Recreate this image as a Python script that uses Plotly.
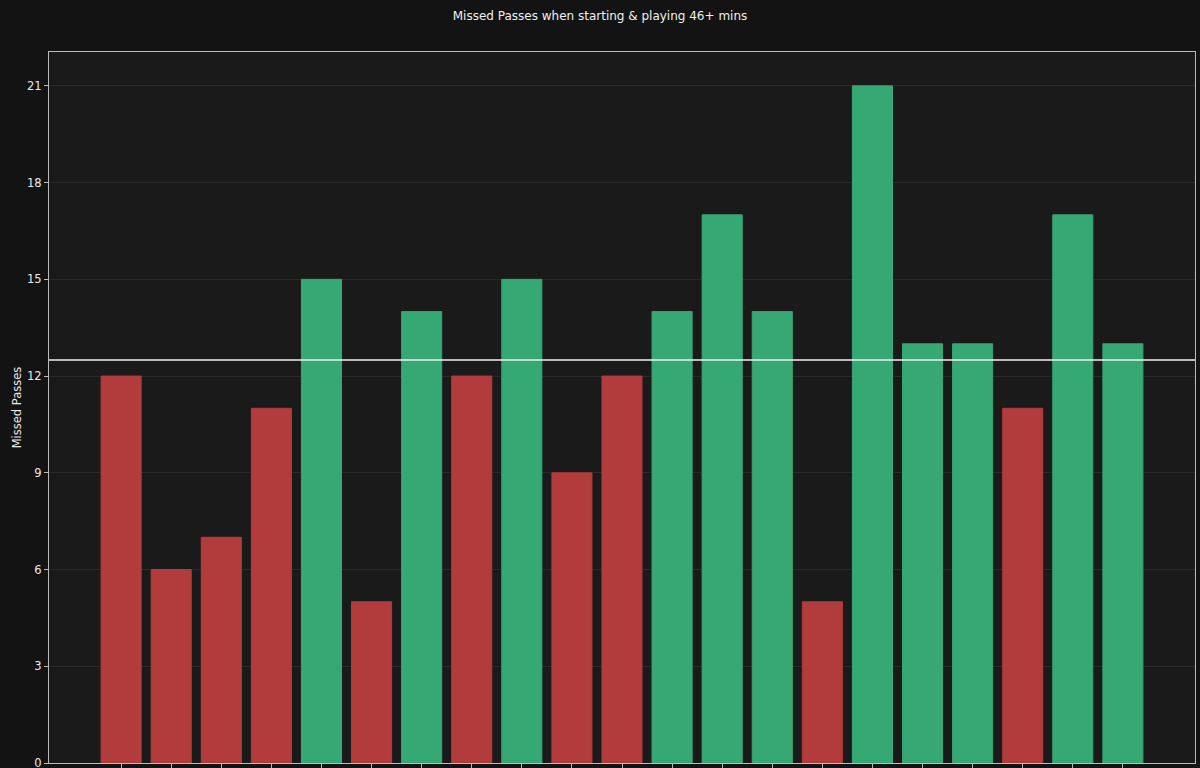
import plotly.graph_objects as go

values = [12, 6, 7, 11, 15, 5, 14, 12, 15, 9, 12, 14, 17, 14, 5, 21, 13, 13, 11, 17, 13]
positions = list(range(len(values)))
threshold = 12.5
y_ticks = [0, 3, 6, 9, 12, 15, 18, 21]

RED = "#b23b3b"
GREEN = "#36a874"
colors = [GREEN if v > threshold else RED for v in values]

fig = go.Figure()
fig.add_trace(go.Bar(
    x=positions, y=values, width=0.8,
    marker=dict(color=colors, line=dict(color=colors, width=1)),
    hoverinfo="y",
))
fig.add_shape(type="line", xref="paper", x0=0, x1=1, yref="y", y0=threshold, y1=threshold,
              line=dict(color="#f0f0f0", width=1.5))

fig.update_layout(
    width=1200, height=768,
    paper_bgcolor="#131313", plot_bgcolor="#1a1a1a",
    margin=dict(l=49, r=5, t=52, b=5),
    font=dict(family="DejaVu Sans", color="#e8e8e8", size=11),
    title=dict(text="Missed Passes when starting & playing 46+ mins", x=0.5, xanchor="center",
               y=1 - 16 / 768, yanchor="middle", font=dict(size=12, color="#f0f0f0")),
    showlegend=False,
    bargap=0.2,
)
fig.update_xaxes(range=[-1.44, 21.44], tickmode="array", tickvals=positions,
                 ticktext=[""] * len(positions), ticks="outside", ticklen=4,
                 tickcolor="#bbbbbb", showgrid=False, zeroline=False, automargin=False,
                 showline=True, linecolor="#bbbbbb", linewidth=1.3, mirror=True)
fig.update_yaxes(range=[0, 22.05], tickmode="array", tickvals=y_ticks,
                 ticks="outside", ticklen=4, tickcolor="#bbbbbb", automargin=False,
                 ticklabeloverflow="allow",
                 gridcolor="#2a2a2a", gridwidth=1, zeroline=False,
                 showline=True, linecolor="#bbbbbb", linewidth=1.3, mirror=True,
                 title=dict(text="Missed Passes", standoff=2, font=dict(size=11.5)),
                 tickfont=dict(size=11.5))

fig.write_html("out.html")
